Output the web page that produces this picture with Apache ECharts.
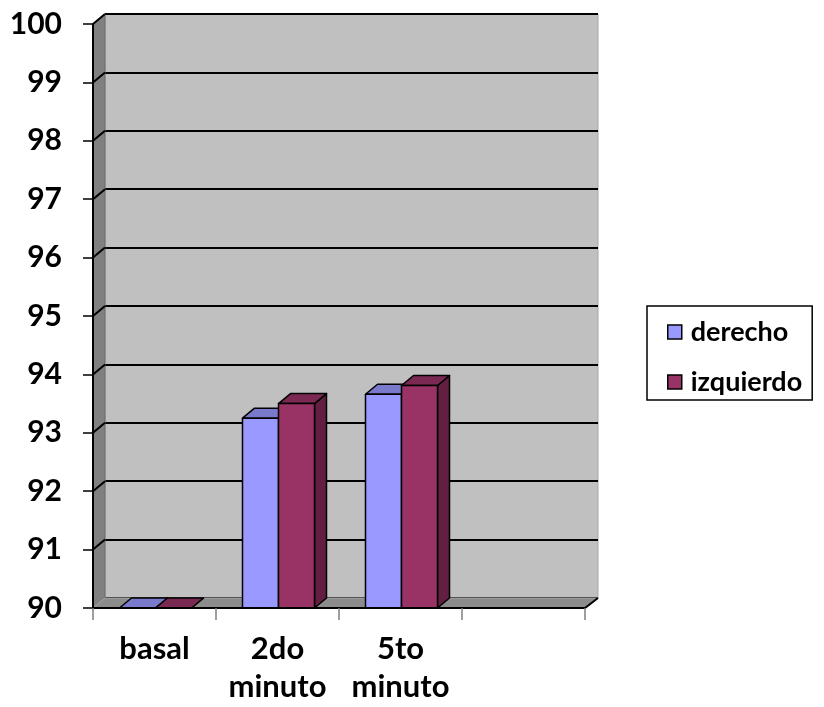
<!DOCTYPE html>
<html>
<head>
<meta charset="utf-8">
<script src="https://cdn.jsdelivr.net/npm/echarts@6/dist/echarts.min.js"></script>
<style>
  html, body { margin: 0; padding: 0; background: #fff; }
  #chart { width: 824px; height: 707px; }
</style>
</head>
<body>
<div id="chart"></div>
<script>
// datos
const categories = ['basal', '2do\nminuto', '5to\nminuto', '']
const derecho = [90, 93.25, 93.66, null]
const izquierdo = [90, 93.5, 93.81, null]
const yTicks = [90, 91, 92, 93, 94, 95, 96, 97, 98, 99, 100]

const FONT = 'Lato, "Noto Sans", sans-serif'
const DX = 12 // profundidad 3d
const DY = -10
const BAR_W = 36

const chart = echarts.init(document.getElementById('chart'))

// barra 3d: cara frontal, superior y lateral
function bar3d(idx, front, topC, side) {
  return function(params, api) {
    const c = api.value(0)
    const v = api.value(1)
    if (v == null || isNaN(v)) return
    const p = api.coord([c, v])
    const b = api.coord([c, 90])
    const xL = p[0] - BAR_W + idx * BAR_W + 1
    const yT = p[1]
    const yB = b[1]
    const st = { stroke: '#000', lineWidth: 1.5, lineJoin: 'round' }
    return {
      type: 'group',
      children: [
        {
          type: 'polygon',
          shape: { points: [[xL + BAR_W, yT], [xL + BAR_W + DX, yT + DY], [xL + BAR_W + DX, yB + DY], [xL + BAR_W, yB]] },
          style: Object.assign({ fill: side }, st)
        },
        {
          type: 'polygon',
          shape: { points: [[xL, yT], [xL + DX, yT + DY], [xL + BAR_W + DX, yT + DY], [xL + BAR_W, yT]] },
          style: Object.assign({ fill: topC }, st)
        },
        {
          type: 'rect',
          shape: { x: xL, y: yT, width: BAR_W, height: yB - yT },
          style: Object.assign({ fill: front }, st)
        }
      ]
    }
  }
}

// paredes izquierda y piso
function frame(params, api) {
  const cs = params.coordSys
  const x = cs.x, y = cs.y, w = cs.width, h = cs.height
  const yy = api.coord([0, api.value(0)])[1]
  const children = []
  if (params.dataIndex === 0) {
    children.push({
      type: 'polygon',
      shape: { points: [[x, y], [x + DX, y + DY], [x + DX, y + h + DY], [x, y + h]] },
      style: { fill: '#808080', stroke: '#6a6a6a', lineWidth: 1 }
    })
    children.push({
      type: 'polygon',
      shape: { points: [[x, y + h], [x + DX, y + h + DY], [x + w + DX + 1, y + h + DY], [x + w, y + h]] },
      style: { fill: '#8c8c8c', stroke: '#a8a8a8', lineWidth: 1 }
    })
    children.push({
      type: 'polyline',
      shape: { points: [[x, y + h], [x + w, y + h], [x + w + DX + 1, y + h + DY]] },
      style: { stroke: '#000', lineWidth: 2, fill: null }
    })
  }
  if (params.dataIndex > 0) {
    children.push({
      type: 'line',
      shape: { x1: x, y1: yy, x2: x + DX, y2: yy + DY },
      style: { stroke: '#000', lineWidth: 2 }
    })
  }
  return { type: 'group', children: children }
}

chart.setOption({
  backgroundColor: '#fff',
  animation: false,
  legend: {
    orient: 'vertical',
    left: 647,
    top: 306,
    padding: [12, 10, 4, 20],
    itemGap: 22,
    itemWidth: 14,
    itemHeight: 14,
    borderColor: '#000',
    borderWidth: 1.5,
    borderRadius: 0,
    icon: 'rect',
    itemStyle: { borderColor: '#000', borderWidth: 1.5 },
    textStyle: { fontFamily: FONT, fontWeight: 'bold', fontSize: 27, lineHeight: 28, color: '#000', padding: [0, 0, 0, 4] },
    data: ['derecho', 'izquierdo']
  },
  grid: [
    { left: 93, top: 24, width: 492, height: 584 },
    { left: 105, top: 14, width: 493, height: 584, show: true, backgroundColor: '#c0c0c0', borderColor: '#a8a8a8', borderWidth: 1, z: 0 }
  ],
  xAxis: [
    {
      type: 'category',
      gridIndex: 0,
      data: categories,
      axisLine: { show: true, lineStyle: { color: '#000', width: 2 } },
      axisTick: { show: true, length: 12, lineStyle: { color: '#808080', width: 1.5 } },
      axisLabel: { fontFamily: FONT, fontWeight: 'bold', fontSize: 31, lineHeight: 38, color: '#000', margin: 22, interval: 0 },
      z: 5
    },
    {
      type: 'category',
      gridIndex: 1,
      data: categories,
      show: false
    }
  ],
  yAxis: [
    {
      type: 'value',
      gridIndex: 0,
      min: 90,
      max: 100,
      interval: 1,
      axisLine: { show: true, lineStyle: { color: '#000', width: 2 } },
      axisTick: { show: true, length: 10, lineStyle: { color: '#000', width: 1.5 } },
      axisLabel: { fontFamily: FONT, fontWeight: 'bold', fontSize: 30, color: '#000', margin: 31 },
      splitLine: { show: false },
      z: 5
    },
    {
      type: 'value',
      gridIndex: 1,
      min: 90,
      max: 100,
      interval: 1,
      axisLine: { show: false },
      axisTick: { show: false },
      axisLabel: { show: false },
      splitLine: { show: true, lineStyle: { color: '#000', width: 2 } }
    }
  ],
  series: [
    {
      name: 'frame',
      type: 'custom',
      xAxisIndex: 0,
      yAxisIndex: 0,
      renderItem: frame,
      data: yTicks.map(v => [v]),
      encode: { x: -1, y: 0 },
      silent: true,
      z: 1
    },
    {
      name: 'derecho',
      type: 'custom',
      xAxisIndex: 0,
      yAxisIndex: 0,
      renderItem: bar3d(0, '#9999ff', '#7a7acc', '#7a7acc'),
      itemStyle: { color: '#9999ff' },
      data: derecho.map((v, i) => [i, v]),
      encode: { x: 0, y: 1 },
      z: 3
    },
    {
      name: 'izquierdo',
      type: 'custom',
      xAxisIndex: 0,
      yAxisIndex: 0,
      renderItem: bar3d(1, '#993366', '#7a2952', '#621f41'),
      itemStyle: { color: '#993366' },
      data: izquierdo.map((v, i) => [i, v]),
      encode: { x: 0, y: 1 },
      z: 4
    }
  ]
})
</script>
</body>
</html>
